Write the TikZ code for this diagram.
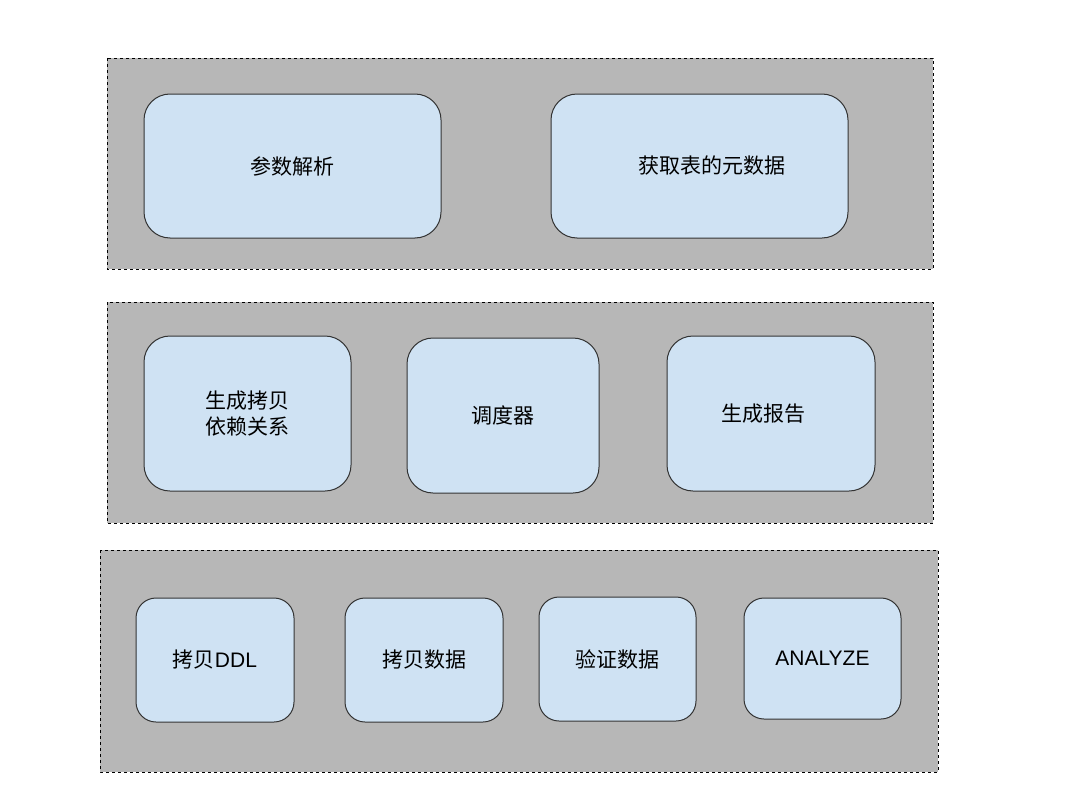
\documentclass[tikz,border=0pt]{standalone}
\usepackage{fontspec}
\setmainfont{Liberation Sans}
\newfontfamily\cjk{Noto Sans CJK SC}
\definecolor{panelgray}{HTML}{B7B7B7}
\definecolor{boxblue}{HTML}{CFE2F3}
\definecolor{boxline}{HTML}{333333}
\tikzset{
  panel/.style={draw=black, dashed, fill=panelgray, line width=0.8pt},
  block/.style={draw=boxline, fill=boxblue, line width=1pt, rounded corners=26pt},
  smallblock/.style={block, rounded corners=20pt},
  lbl/.style={font=\fontsize{21}{26}\selectfont, align=center, inner sep=0pt},
}
\begin{document}
\begin{tikzpicture}[x=1pt,y=-1pt]
\useasboundingbox (0,0) rectangle (1079,808);
\fill[white] (0,0) rectangle (1079,808);
% panels
\draw[panel] (107,58) rectangle (933,269);
\draw[panel] (107,302) rectangle (933,523);
\draw[panel] (100,550) rectangle (938,772);
% top row
\draw[block] (144,94) rectangle (441,238);
\node[lbl] (p) at (292.5,166) {\cjk 参数解析};
\draw[block] (551,94) rectangle (848,238);
\node[lbl] (m) at (712,166) {\cjk 获取表的元数据};
% middle row
\draw[block] (144,336) rectangle (351,491);
\node[lbl] (d) at (247.5,413.5) {\cjk 生成拷贝\\\cjk 依赖关系};
\draw[block] (407,338) rectangle (599,493);
\node[lbl] (s) at (503,415.5) {\cjk 调度器};
\draw[block] (667,336) rectangle (875,491);
\node[lbl] (r) at (763,413.5) {\cjk 生成报告};
% bottom row
\draw[smallblock] (136,598) rectangle (294,722);
\node[lbl] (c1) at (215,660) {{\cjk 拷贝}DDL};
\draw[smallblock] (345,598) rectangle (503,722);
\node[lbl] (c2) at (424,660) {\cjk 拷贝数据};
\draw[smallblock] (539,597) rectangle (696,721);
\node[lbl] (c3) at (617.5,659) {\cjk 验证数据};
\draw[smallblock] (744,598) rectangle (901,719);
\node[lbl] (c4) at (822.5,658.5) {ANALYZE};
\end{tikzpicture}
\end{document}
